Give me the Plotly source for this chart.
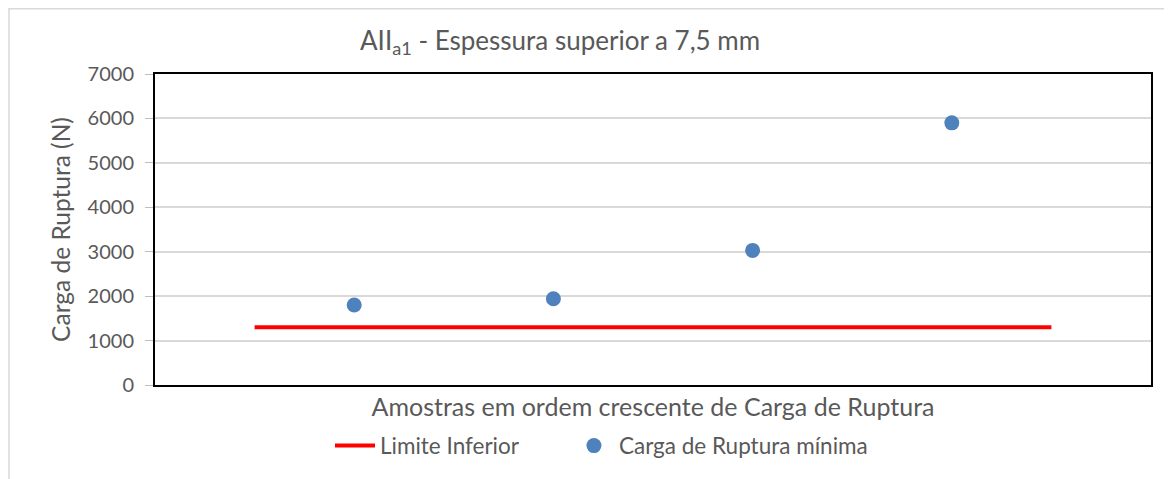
import plotly.graph_objects as go

# Data
amostras = [1, 2, 3, 4]
carga_ruptura = [1800, 1940, 3030, 5900]
limite_x = [0.5, 4.5]
limite_inferior = [1300, 1300]
y_ticks = [0, 1000, 2000, 3000, 4000, 5000, 6000, 7000]

FONT = "Lato"
GRAY = "#595959"

fig = go.Figure()
fig.add_trace(go.Scatter(
    x=limite_x, y=limite_inferior, mode="lines", name="Limite Inferior",
    line=dict(color="#FF0000", width=4), legend="legend"))
fig.add_trace(go.Scatter(
    x=amostras, y=carga_ruptura, mode="markers", name="Carga de Ruptura mínima",
    marker=dict(color="#4F81BD", size=15), legend="legend2"))

leg_common = dict(orientation="h", xanchor="left", xref="paper", yanchor="middle",
                  yref="paper", y=-0.196, font=dict(size=22.5, color=GRAY),
                  itemwidth=40, bgcolor="rgba(0,0,0,0)")

fig.update_layout(
    width=1172, height=479,
    paper_bgcolor="white", plot_bgcolor="white",
    margin=dict(l=147, r=29, t=66, b=102, autoexpand=False),
    font=dict(family=FONT, color=GRAY, size=22),
    showlegend=True,
    legend=dict(x=0.1757, **leg_common),
    legend2=dict(x=0.4156, **leg_common),
    annotations=[dict(
        text="AII<sub>a1</sub> - Espessura superior a 7,5 mm",
        xref="paper", yref="paper", x=0.4066, y=1.103, yanchor="middle",
        xanchor="center", showarrow=False, font=dict(size=26, color=GRAY, family=FONT))],
)

fig.update_xaxes(range=[0, 5], showticklabels=False, showgrid=False, zeroline=False,
                 showline=True, linecolor="black", linewidth=2, mirror=True,
                 title=dict(text="Amostras em ordem crescente de Carga de Ruptura",
                            font=dict(size=25, color=GRAY), standoff=12))
fig.update_yaxes(range=[0, 7000], tickvals=y_ticks, showgrid=True, gridcolor="#D9D9D9",
                 gridwidth=1.5, zeroline=False, showline=True, linecolor="black",
                 linewidth=2, mirror=True, ticks="outside", ticklen=8, tickcolor="#BFBFBF",
                 ticklabelstandoff=7,
                 tickfont=dict(size=20, color=GRAY),
                 title=dict(text="Carga de Ruptura (N)", font=dict(size=24.5, color=GRAY), standoff=10))

# light outer chart border
fig.add_shape(type="rect", xref="paper", yref="paper",
              x0=-146/996, x1=1.1, y0=-0.5, y1=376.25/311,
              line=dict(color="#D9D9D9", width=1.5), layer="below")

fig.write_html("out.html")
